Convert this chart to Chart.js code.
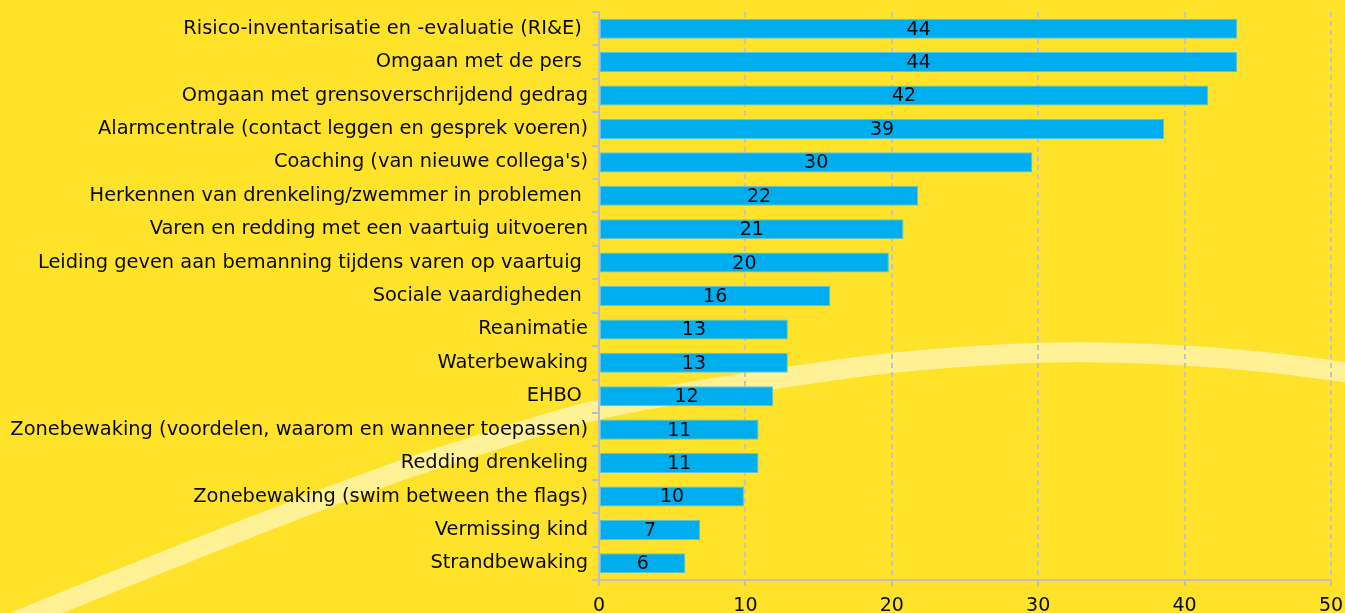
<!DOCTYPE html>
<html>
<head>
<meta charset="utf-8">
<script src="https://cdn.jsdelivr.net/npm/chart.js@4/dist/chart.umd.min.js"></script>
<style>
  html, body { margin: 0; padding: 0; background: #FFE32B; }
  #wrap { width: 1345px; height: 613px; }
</style>
</head>
<body>
<div id="wrap"><canvas id="myChart" width="1345" height="613"></canvas></div>
<script>
const categories = [
    'Risico-inventarisatie en -evaluatie (RI&E) ',
    'Omgaan met de pers ',
    'Omgaan met grensoverschrijdend gedrag',
    'Alarmcentrale (contact leggen en gesprek voeren)',
    "Coaching (van nieuwe collega's)",
    'Herkennen van drenkeling/zwemmer in problemen ',
    'Varen en redding met een vaartuig uitvoeren',
    'Leiding geven aan bemanning tijdens varen op vaartuig ',
    'Sociale vaardigheden ',
    'Reanimatie',
    'Waterbewaking',
    'EHBO ',
    'Zonebewaking (voordelen, waarom en wanneer toepassen)',
    'Redding drenkeling',
    'Zonebewaking (swim between the flags)',
    'Vermissing kind',
    'Strandbewaking'
];
const values = [43.6, 43.6, 41.6, 38.6, 29.6, 21.8, 20.8, 19.8, 15.8, 12.9, 12.9, 11.9, 10.9, 10.9, 9.9, 6.9, 5.9];
const xTicks = [0, 10, 20, 30, 40, 50];

// pale decorative swoosh behind the chart
const swoosh = [[-10, 632], [43, 610], [200, 547], [300, 508], [400, 470], [500, 438], [590, 410],
    [700, 390], [800, 375], [893, 362], [1013, 353], [1090, 352], [1167, 354], [1260, 361], [1345, 372], [1400, 380]];

const bgPlugin = {
    id: 'bg',
    beforeDraw(chart) {
        const c = chart.ctx;
        c.save();
        c.fillStyle = '#FFE32B';
        c.fillRect(0, 0, chart.width, chart.height);
        c.strokeStyle = 'rgba(255, 255, 255, 0.5)';
        c.lineWidth = 20;
        c.beginPath();
        c.moveTo(swoosh[0][0], swoosh[0][1]);
        for (let i = 1; i < swoosh.length - 1; i++) {
            const mx = (swoosh[i][0] + swoosh[i + 1][0]) / 2;
            const my = (swoosh[i][1] + swoosh[i + 1][1]) / 2;
            c.quadraticCurveTo(swoosh[i][0], swoosh[i][1], mx, my);
        }
        const last = swoosh[swoosh.length - 1];
        c.lineTo(last[0], last[1]);
        c.stroke();
        c.restore();
    }
};

const valueLabels = {
    id: 'valueLabels',
    afterDatasetsDraw(chart) {
        const c = chart.ctx;
        const meta = chart.getDatasetMeta(0);
        c.save();
        c.font = '19px "DejaVu Sans"';
        c.fillStyle = '#0a0a0a';
        c.textAlign = 'center';
        c.textBaseline = 'middle';
        meta.data.forEach((bar, i) => {
            const x = (bar.base + bar.x) / 2;
            c.fillText(String(Math.round(values[i])), x, bar.y + 1);
        });
        c.restore();
    }
};

const ctx = document.getElementById('myChart').getContext('2d');
const myChart = new Chart(ctx, {
    type: 'bar',
    data: {
        labels: categories,
        datasets: [{
            data: values,
            backgroundColor: '#00AEEF',
            borderColor: '#5CC3E0',
            borderWidth: 1,
            borderSkipped: false,
            barPercentage: 0.6,
            categoryPercentage: 1
        }]
    },
    options: {
        indexAxis: 'y',
        responsive: false,
        animation: false,
        layout: { padding: { top: 12, right: 14, left: 0, bottom: 0 } },
        plugins: {
            legend: { display: false },
            tooltip: { enabled: false }
        },
        scales: {
            x: {
                min: 0,
                max: 50,
                afterBuildTicks(scale) { scale.ticks = xTicks.map(v => ({ value: v })); },
                afterFit(scale) {
                    scale.height = 33;
                    scale.paddingLeft = 0;
                    scale.paddingRight = 0;
                },
                grid: {
                    color: '#C4C4C4',
                    lineWidth: 2,
                    tickLength: 6,
                    tickColor: '#BFBFBF'
                },
                border: { color: '#BFBFBF', width: 2, dash: [5, 4] },
                ticks: {
                    color: '#0a0a0a',
                    padding: 9,
                    font: { family: 'DejaVu Sans', size: 19 }
                }
            },
            y: {
                afterFit(scale) {
                    scale.width = 599;
                    scale.paddingTop = 0;
                    scale.paddingBottom = 0;
                },
                border: { color: '#BFBFBF', width: 2 },
                grid: {
                    offset: true,
                    drawOnChartArea: false,
                    tickLength: 7,
                    color: '#BFBFBF',
                    lineWidth: 2
                },
                ticks: {
                    color: '#0a0a0a',
                    padding: 4,
                    autoSkip: false,
                    font: { family: 'DejaVu Sans', size: 19.4 }
                }
            }
        }
    },
    plugins: [bgPlugin, valueLabels]
});
</script>
</body>
</html>
